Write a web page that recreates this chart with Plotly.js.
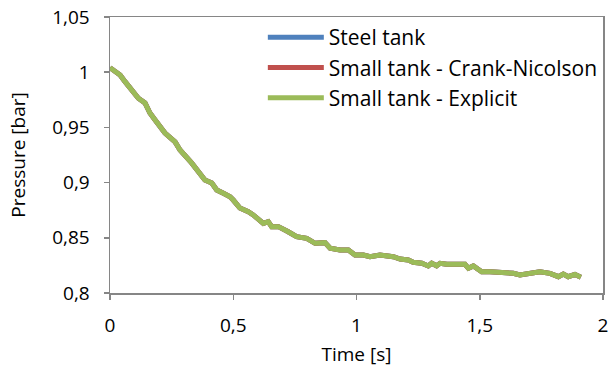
<!DOCTYPE html>
<html>
<head>
<meta charset="utf-8">
<script src="https://cdn.plot.ly/plotly-3.0.1.min.js"></script>
<style>html,body{margin:0;padding:0;background:#fff;}#chart{width:611px;height:376px;}</style>
</head>
<body>
<div id="chart"></div>
<script>
// Time [s]
var time = [0, 0.041, 0.061, 0.081, 0.115, 0.142, 0.162, 0.183, 0.223, 0.264, 0.284, 0.331, 0.385, 0.413, 0.433, 0.460, 0.487, 0.500, 0.527, 0.561, 0.581, 0.622, 0.642, 0.656, 0.683, 0.723, 0.757, 0.798, 0.832, 0.872, 0.893, 0.933, 0.967, 0.994, 1.028, 1.055, 1.095, 1.149, 1.177, 1.210, 1.230, 1.265, 1.291, 1.305, 1.325, 1.339, 1.366, 1.440, 1.454, 1.474, 1.508, 1.542, 1.609, 1.636, 1.663, 1.704, 1.744, 1.785, 1.819, 1.839, 1.859, 1.886, 1.910];
// Pressure [bar] - Steel tank
var steelTank = [1.004, 0.9975, 0.9914, 0.9857, 0.9764, 0.9721, 0.9630, 0.9567, 0.9449, 0.9368, 0.9295, 0.9178, 0.9024, 0.8996, 0.8933, 0.8903, 0.8872, 0.8842, 0.8770, 0.8736, 0.8707, 0.8631, 0.8646, 0.8601, 0.8601, 0.8555, 0.8510, 0.8495, 0.8450, 0.8456, 0.8405, 0.8389, 0.8389, 0.8344, 0.8344, 0.8329, 0.8344, 0.8329, 0.8308, 0.8299, 0.8278, 0.8269, 0.8245, 0.8269, 0.8247, 0.8269, 0.8260, 0.8260, 0.8224, 0.8245, 0.8193, 0.8193, 0.8188, 0.8178, 0.8163, 0.8184, 0.8193, 0.8178, 0.8148, 0.8172, 0.8148, 0.8169, 0.8142];
// Pressure [bar] - Small tank - Crank-Nicolson
var smallTankCN = [1.004, 0.9975, 0.9914, 0.9857, 0.9764, 0.9721, 0.9630, 0.9567, 0.9449, 0.9368, 0.9295, 0.9178, 0.9024, 0.8996, 0.8933, 0.8903, 0.8872, 0.8842, 0.8770, 0.8736, 0.8707, 0.8631, 0.8646, 0.8601, 0.8601, 0.8555, 0.8510, 0.8495, 0.8450, 0.8456, 0.8405, 0.8389, 0.8389, 0.8344, 0.8344, 0.8329, 0.8344, 0.8329, 0.8308, 0.8299, 0.8278, 0.8269, 0.8245, 0.8269, 0.8247, 0.8269, 0.8260, 0.8260, 0.8224, 0.8245, 0.8193, 0.8193, 0.8188, 0.8178, 0.8163, 0.8184, 0.8193, 0.8178, 0.8148, 0.8172, 0.8148, 0.8169, 0.8142];
// Pressure [bar] - Small tank - Explicit
var smallTankExplicit = [1.004, 0.9975, 0.9914, 0.9857, 0.9764, 0.9721, 0.9630, 0.9567, 0.9449, 0.9368, 0.9295, 0.9178, 0.9024, 0.8996, 0.8933, 0.8903, 0.8872, 0.8842, 0.8770, 0.8736, 0.8707, 0.8631, 0.8646, 0.8601, 0.8601, 0.8555, 0.8510, 0.8495, 0.8450, 0.8456, 0.8405, 0.8389, 0.8389, 0.8344, 0.8344, 0.8329, 0.8344, 0.8329, 0.8308, 0.8299, 0.8278, 0.8269, 0.8245, 0.8269, 0.8247, 0.8269, 0.8260, 0.8260, 0.8224, 0.8245, 0.8193, 0.8193, 0.8188, 0.8178, 0.8163, 0.8184, 0.8193, 0.8178, 0.8148, 0.8172, 0.8148, 0.8169, 0.8142];

var seriesNames = ["Steel tank", "Small tank - Crank-Nicolson", "Small tank - Explicit"];
var seriesColors = ["#4F81BD", "#C0504D", "#9BBB59"];
var seriesValues = [steelTank, smallTankCN, smallTankExplicit];

var traces = seriesValues.map(function (vals, i) {
  return {
    x: time, y: vals, type: "scatter", mode: "lines",
    name: seriesNames[i], legendgroup: "g" + i,
    line: {color: seriesColors[i], width: 5}
  };
});

var axisColor = "#868686";
var fam = "'Open Sans', sans-serif";
var tickFont = {family: fam, size: 19, color: "#000"};
var legendFont = {family: fam, size: 21, color: "#000"};

var layout = {
  width: 611, height: 376,
  margin: {l: 110, r: 8, t: 17, b: 83},
  paper_bgcolor: "#fff", plot_bgcolor: "#fff",
  separators: ", ",
  font: tickFont,
  showlegend: true,
  legend: {
    x: 0.31, y: 1.0, xanchor: "left", yanchor: "top",
    bgcolor: "rgba(0,0,0,0)", font: legendFont,
    traceorder: "grouped", tracegroupgap: 0, itemwidth: 56
  },
  xaxis: {
    range: [0, 2], dtick: 0.5, tick0: 0,
    showgrid: false, zeroline: false,
    showline: true, mirror: true, linecolor: axisColor, linewidth: 1.5,
    ticks: "outside", ticklen: 5, tickcolor: axisColor, tickwidth: 1.5,
    tickfont: tickFont, ticklabelstandoff: 10,
    title: {text: "Time [s]", font: tickFont, standoff: 10}
  },
  yaxis: {
    range: [0.8, 1.05], dtick: 0.05, tick0: 0.8,
    showgrid: false, zeroline: false,
    showline: true, mirror: true, linecolor: axisColor, linewidth: 1.5,
    ticks: "outside", ticklen: 5, tickcolor: axisColor, tickwidth: 1.5,
    tickfont: tickFont, ticklabelstandoff: 10,
    title: {text: "Pressure [bar]", font: tickFont, standoff: 21}
  }
};

Plotly.newPlot("chart", traces, layout, {displayModeBar: false, staticPlot: true});
</script>
</body>
</html>
